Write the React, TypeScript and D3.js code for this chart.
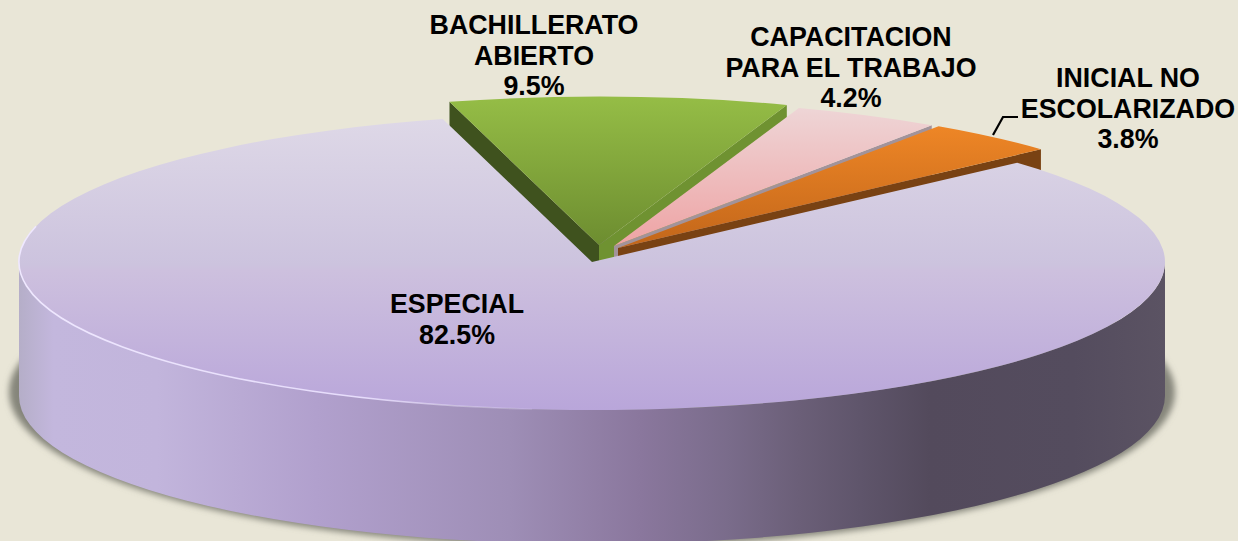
import * as d3 from "d3";

// values
const categories = ["ESPECIAL", "BACHILLERATO ABIERTO", "CAPACITACION PARA EL TRABAJO", "INICIAL NO ESCOLARIZADO"];
const percents = [82.5, 9.5, 4.2, 3.8];
const labelLines = [["ESPECIAL"], ["BACHILLERATO", "ABIERTO"], ["CAPACITACION", "PARA EL TRABAJO"], ["INICIAL NO", "ESCOLARIZADO"]];

// layout
const width = 1238;
const height = 541;
const cx = 592;
const cy = 262;
const rx = 573;
const ry = 148;
const depth = 134;
const squash = ry / rx;
const startAngle = (47.9 * Math.PI) / 180;
const sliceRadius = [rx, 574, 565, 570];
const sliceOffset = [[0, 0], [7, -17], [22, -16], [26, -14]];
const labelX = [457, 534, 851, 1128];
const labelY = [304, 25, 37, 78];

const topGradients = [
  [["0%", "#ded8e7"], ["50%", "#ccc3de"], ["52%", "#cdc0de"], ["100%", "#b9a6da"]],
  [["0%", "#95bd46"], ["100%", "#6d8d30"]],
  [["0%", "#eed5d6"], ["100%", "#eea3a4"]],
  [["0%", "#ee8626"], ["100%", "#c2661a"]],
];
const wallStops = [
  [0, "#b5aec8"], [0.03, "#c3b7dd"], [0.12, "#c2b5dc"], [0.26, "#b1a0cd"], [0.428, "#9e8eb6"],
  [0.542, "#8a779d"], [0.618, "#7a6c8b"], [0.68, "#6b5f78"], [0.734, "#5f556b"], [0.795, "#534a5c"], [0.92, "#544c5e"], [1, "#5b5363"],
];
const radialWallColor = { left: "#3f521e", green: "#6f9231", pink: "#a2939a", orange: "#794213" };

const pie = d3.pie<number>().sort(null).startAngle(startAngle).endAngle(startAngle + 2 * Math.PI);
const arcs = pie(percents);

const sliceArc = (a: d3.PieArcDatum<number>, i: number) =>
  d3.arc<d3.PieArcDatum<number>>().innerRadius(0).outerRadius(sliceRadius[i])(a) as string;

const apex = (i: number) => [cx + sliceOffset[i][0], cy + sliceOffset[i][1]];

// side wall of an exploded slice along one radial edge, extruded downward
const radialWall = (i: number, angle: number) => {
  const [ax, ay] = apex(i);
  const ex = ax + sliceRadius[i] * Math.sin(angle);
  const ey = ay - sliceRadius[i] * Math.cos(angle) * squash;
  const p = d3.path();
  p.moveTo(ax, ay);
  p.lineTo(ex, ey);
  p.lineTo(ex, ey + depth);
  p.lineTo(ax, ay + depth);
  p.closePath();
  return p.toString();
};

const outerWall = `M${cx - rx},${cy} A${rx},${ry} 0 0 0 ${cx + rx},${cy} L${cx + rx},${cy + depth} A${rx},${ry} 0 0 1 ${cx - rx},${cy + depth} Z`;

const rimArc = d3.arc()({
  innerRadius: rx,
  outerRadius: rx,
  startAngle: (186 * Math.PI) / 180,
  endAngle: (284 * Math.PI) / 180,
}) as string;

const leader = d3.line()([[993, 135], [1003, 117], [1018, 117]]) as string;

export default function App() {
  return (
    <svg
      width={width}
      height={height}
      viewBox={`0 0 ${width} ${height}`}
      style={{ position: "absolute", left: 0, top: 0, display: "block" }}
    >
      <defs>
        {topGradients.map((stops, i) => (
          <linearGradient key={i} id={`top${i}`} x1="0" y1="0" x2="0" y2="1">
            {stops.map(([o, c]) => (
              <stop key={o} offset={o} stopColor={c} />
            ))}
          </linearGradient>
        ))}
        <linearGradient id="wall" gradientUnits="userSpaceOnUse" x1={cx - rx} y1="0" x2={cx + rx} y2="0">
          {wallStops.map(([o, c]) => (
            <stop key={o as number} offset={o as number} stopColor={c as string} />
          ))}
        </linearGradient>
        <linearGradient id="rim" gradientUnits="userSpaceOnUse" x1={-rx} y1="0" x2={0} y2="0">
          <stop offset="0" stopColor="#efe8ff" />
          <stop offset="0.6" stopColor="#e6dcfb" />
          <stop offset="0.95" stopColor="#e6dcfb" stopOpacity="0" />
        </linearGradient>
        <filter id="blur" x="-5%" y="-5%" width="110%" height="110%">
          <feGaussianBlur stdDeviation="3" />
        </filter>
      </defs>
      <rect width={width} height={height} fill="#e9e6d7" />

      <ellipse cx={cx} cy={392} rx={583} ry={155} fill="#85857a" filter="url(#blur)" />
      <path d={outerWall} fill="url(#wall)" />

      <path d={radialWall(1, arcs[1].startAngle)} fill={radialWallColor.left} />
      <path d={radialWall(1, arcs[1].endAngle)} fill={radialWallColor.green} />
      <g transform={`translate(${apex(1)}) scale(1,${squash})`}>
        <path d={sliceArc(arcs[1], 1)} fill="url(#top1)" />
      </g>
      <path d={radialWall(2, arcs[2].endAngle)} fill={radialWallColor.pink} />
      <g transform={`translate(${apex(2)}) scale(1,${squash})`}>
        <path d={sliceArc(arcs[2], 2)} fill="url(#top2)" />
      </g>
      <path d={radialWall(3, arcs[3].endAngle)} fill={radialWallColor.orange} />
      <g transform={`translate(${apex(3)}) scale(1,${squash})`}>
        <path d={sliceArc(arcs[3], 3)} fill="url(#top3)" />
      </g>

      <g transform={`translate(${cx},${cy}) scale(1,${squash})`}>
        <path d={sliceArc(arcs[0], 0)} fill="url(#top0)" />
        <path d={rimArc} fill="none" stroke="url(#rim)" strokeWidth={1.6} vectorEffect="non-scaling-stroke" />
      </g>

      <path d={leader} fill="none" stroke="#000" strokeWidth={2.2} />

      <g fontFamily="'Liberation Sans', Arial, sans-serif" fontWeight="bold" fontSize={26.8} fill="#000" textAnchor="middle">
        {categories.map((name, i) => (
          <text key={name} x={labelX[i]} y={labelY[i]} dominantBaseline="central">
            {labelLines[i].map((line, j) => (
              <tspan key={j} x={labelX[i]} dy={j === 0 ? 0 : 30.5}>
                {line}
              </tspan>
            ))}
            <tspan x={labelX[i]} dy={30.5}>
              {`${percents[i].toFixed(1)}%`}
            </tspan>
          </text>
        ))}
      </g>
    </svg>
  );
}
